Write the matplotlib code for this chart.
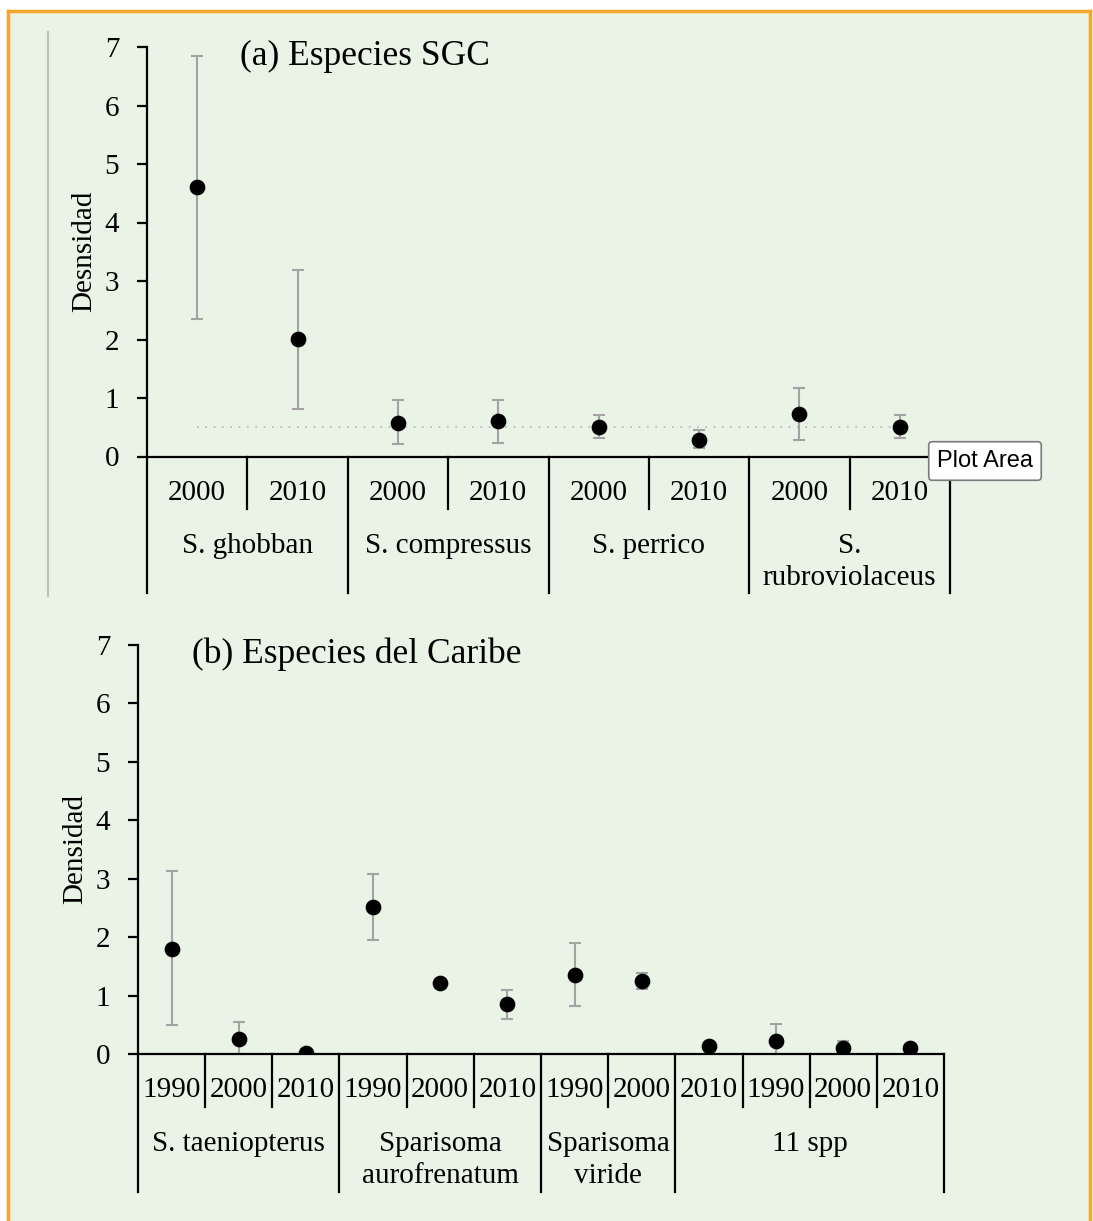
import matplotlib.pyplot as plt
from matplotlib.lines import Line2D
from matplotlib.patches import Rectangle

# (a) Especies SGC
sgc_groups = ["S. ghobban", "S. compressus", "S. perrico", "S.\nrubroviolaceus"]
sgc_group_sizes = [2, 2, 2, 2]
sgc_years = ["2000", "2010", "2000", "2010", "2000", "2010", "2000", "2010"]
sgc_mean = [4.61, 2.01, 0.57, 0.60, 0.51, 0.28, 0.73, 0.51]
sgc_low = [2.35, 0.81, 0.21, 0.23, 0.31, 0.15, 0.29, 0.31]
sgc_high = [6.85, 3.19, 0.96, 0.96, 0.71, 0.45, 1.17, 0.71]
sgc_ref = 0.5

# (b) Especies del Caribe
car_groups = ["S. taeniopterus", "Sparisoma\naurofrenatum", "Sparisoma\nviride", "11 spp"]
car_group_sizes = [3, 3, 2, 4]
car_years = ["1990", "2000", "2010", "1990", "2000", "2010",
             "1990", "2000", "2010", "1990", "2000", "2010"]
car_mean = [1.80, 0.26, 0.02, 2.51, 1.21, 0.85, 1.36, 1.25, 0.13, 0.23, 0.10, 0.10]
car_low = [0.49, 0.00, 0.02, 1.95, 1.21, 0.60, 0.83, 1.12, 0.13, 0.00, 0.00, 0.10]
car_high = [3.13, 0.55, 0.02, 3.08, 1.21, 1.10, 1.90, 1.38, 0.13, 0.51, 0.23, 0.10]

plt.rcParams['font.family'] = ['Liberation Serif', 'DejaVu Serif']

W, H = 1093, 1221
fig = plt.figure(figsize=(W / 100, H / 100), dpi=100, facecolor="white")

# background frame
fig.patches.append(Rectangle((8 / W, 0), (1090 - 8) / W, 1 - 11 / H,
                             transform=fig.transFigure, facecolor="#E9F3E6",
                             edgecolor="none", zorder=-10))
orange = "#F7A62B"
fig.lines.append(Line2D([8 / W, 8 / W], [0, 1 - 11 / H], transform=fig.transFigure,
                        color=orange, lw=2.5))
fig.lines.append(Line2D([8 / W, 1090 / W], [1 - 11 / H, 1 - 11 / H], transform=fig.transFigure,
                        color=orange, lw=2.5))
fig.lines.append(Line2D([1090 / W, 1090 / W], [0, 1 - 11 / H], transform=fig.transFigure,
                        color=orange, lw=2.5))
fig.lines.append(Line2D([48 / W, 48 / W], [1 - 596 / H, 1 - 32 / H], transform=fig.transFigure,
                        color="#BDBDBD", lw=1.5))


def draw_panel(ax, years, groups, sizes, mean, low, high, title, title_x, ylabel, ylabel_x,
               short_len, long_len, year_y, group_y):
    x = list(range(len(mean)))
    # only points that have a visible spread get an error bar
    ex, ey, elo, ehi = [], [], [], []
    for i, (m, l, h) in enumerate(zip(mean, low, high)):
        if h - l > 0:
            ex.append(i)
            ey.append(m)
            elo.append(m - l)
            ehi.append(h - m)
    ax.errorbar(ex, ey, yerr=[elo, ehi], fmt="none", ecolor="#A3A3A3", elinewidth=1.5,
                capsize=4, capthick=1.5, zorder=2)
    ax.plot(x, mean, "o", color="black", ms=10.3, zorder=3)
    ax.set_xlim(-0.5, len(mean) - 0.5)
    ax.set_ylim(0, 7)
    ax.set_yticks(range(8))
    ax.set_xticks([])
    ax.patch.set_visible(False)
    for s in ["top", "right"]:
        ax.spines[s].set_visible(False)
    ax.spines["left"].set_linewidth(1.6)
    ax.spines["bottom"].set_linewidth(1.6)
    ax.tick_params(axis="y", direction="out", length=7, width=1.6, pad=13, labelsize=21)

    tr = ax.get_xaxis_transform()
    # group boundaries
    bounds = [-0.5]
    for n in sizes:
        bounds.append(bounds[-1] + n)
    for i in range(len(mean) + 1):
        bx = i - 0.5
        ln = long_len if bx in bounds else short_len
        ax.plot([bx, bx], [0, -ln], color="black", lw=1.6, transform=tr, clip_on=False)
    for i, yr in enumerate(years):
        ax.text(i, -year_y, yr, transform=tr, ha="center", va="center", fontsize=21)
    for g, b0, b1 in zip(groups, bounds[:-1], bounds[1:]):
        ax.text((b0 + b1) / 2, -group_y, g, transform=tr, ha="center", va="top",
                fontsize=21, linespacing=1.3)

    ax.text(title_x, 0.978, title, transform=ax.transAxes, ha="left", va="center", fontsize=25.5)
    ax.text(ylabel_x, 0.5, ylabel, transform=ax.transAxes, ha="center", va="center",
            rotation=90, fontsize=21)


# panel a
ax1 = fig.add_axes([147 / W, 1 - 456.5 / H, 803 / W, 409.5 / H])
draw_panel(ax1, sgc_years, sgc_groups, sgc_group_sizes, sgc_mean, sgc_low, sgc_high,
           "(a) Especies SGC", 0.116, "Desnsidad", -0.078,
           0.128, 0.333, 0.088, 0.187)
ax1.plot([0, len(sgc_mean) - 1], [sgc_ref, sgc_ref], color="#B8B8B8", lw=1.2,
         ls=(0, (1, 4)), zorder=1)

# panel b
ax2 = fig.add_axes([138 / W, 1 - 1054 / H, 806 / W, 409 / H])
draw_panel(ax2, car_years, car_groups, car_group_sizes, car_mean, car_low, car_high,
           "(b) Especies del Caribe", 0.067, "Densidad", -0.078,
           0.130, 0.337, 0.088, 0.188)

# "Plot Area" tooltip
fig.text(985 / W, 1 - 461 / H, "Plot Area", ha="center", va="center", fontsize=17,
         family="Liberation Sans",
         bbox=dict(boxstyle="round,pad=0.35,rounding_size=0.15", facecolor="white",
                   edgecolor="#7A7A7A", lw=1.2))

fig.savefig("out.png", dpi=100)
